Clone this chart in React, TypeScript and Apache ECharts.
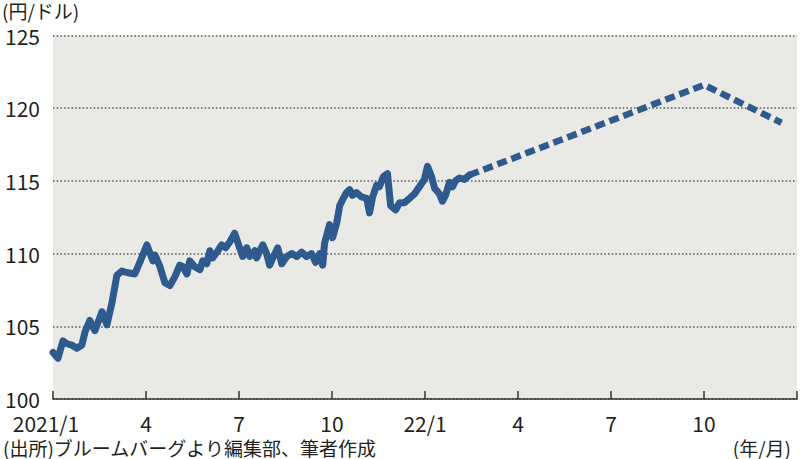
import React, { useEffect, useRef } from "react";
import * as echarts from "echarts";

// x positions in months since 2021/1 (0 = 2021/1, 12 = 2022/1, 24 = 2023/1)
const actualMonths = [
  0.0, 0.16, 0.32, 0.45, 0.61, 0.77, 0.93, 1.03, 1.19, 1.35, 1.58, 1.74, 1.9, 2.06, 2.22, 2.38, 2.64, 2.8,
  3.03, 3.22, 3.29, 3.45, 3.61, 3.77, 3.93, 4.09, 4.19, 4.32, 4.41, 4.57, 4.74, 4.83, 4.96, 5.06, 5.15,
  5.32, 5.44, 5.57, 5.7, 5.86, 6.02, 6.12, 6.25, 6.35, 6.51, 6.57, 6.67, 6.77, 6.89, 6.99, 7.09, 7.25,
  7.38, 7.54, 7.7, 7.86, 8.02, 8.18, 8.34, 8.47, 8.6, 8.7, 8.76, 8.92, 9.02, 9.15, 9.25, 9.34, 9.47,
  9.57, 9.66, 9.79, 9.95, 10.12, 10.21, 10.31, 10.44, 10.53, 10.66, 10.79, 10.89, 11.05, 11.18, 11.34,
  11.5, 11.66, 11.82, 11.98, 12.08, 12.21, 12.31, 12.47, 12.56, 12.66, 12.79, 12.89, 12.98, 13.11,
  13.27, 13.43,
];
const actualRates = [
  103.2, 102.8, 104.0, 103.8, 103.7, 103.5, 103.7, 104.6, 105.4, 104.7, 106.0, 105.1, 106.6, 108.5,
  108.8, 108.7, 108.6, 109.4, 110.6, 109.5, 109.9, 109.1, 108.0, 107.8, 108.4, 109.2, 109.1, 108.6,
  109.5, 109.1, 108.9, 109.5, 109.3, 110.2, 109.7, 110.2, 110.6, 110.4, 110.8, 111.4, 110.4, 109.8,
  110.4, 109.8, 110.2, 109.7, 110.2, 110.6, 110.0, 109.2, 109.7, 110.4, 109.3, 109.8, 110.0, 109.8,
  110.1, 109.8, 110.0, 109.4, 110.0, 109.2, 110.7, 112.0, 111.1, 112.1, 113.3, 113.7, 114.2, 114.4,
  114.0, 114.2, 113.9, 113.8, 112.8, 113.9, 114.7, 114.6, 115.3, 115.5, 113.3, 113.0, 113.5, 113.5,
  113.8, 114.1, 114.6, 115.1, 116.0, 115.3, 114.5, 114.1, 113.6, 114.0, 114.9, 114.6, 115.0, 115.2,
  115.1, 115.4,
];

const forecastMonths = [13.43, 21.0, 23.5];
const forecastRates = [115.4, 121.6, 119.0];

const xTickLabels = ["2021/1", "4", "7", "10", "22/1", "4", "7", "10", ""];

const FONT = '"Noto Sans CJK JP", "Noto Sans", sans-serif';
const TEXT = "#231f20";
const LINE = "#2f5a8e";

export default function App() {
  const ref = useRef<HTMLDivElement>(null);

  useEffect(() => {
    if (!ref.current) return;
    const chart = echarts.init(ref.current, undefined, { renderer: "svg" });
    const actual = actualMonths.map((m, i) => [m, actualRates[i]]);
    const forecast = forecastMonths.map((m, i) => [m, forecastRates[i]]);

    chart.setOption({
      animation: false,
      textStyle: { fontFamily: FONT },
      grid: {
        left: 53,
        right: 2,
        top: 35.5,
        bottom: 60,
        show: true,
        backgroundColor: "#e9eae5",
        borderWidth: 0,
      },
      xAxis: {
        type: "value",
        min: 0,
        max: 24,
        interval: 3,
        axisLine: { show: true, lineStyle: { color: "#333", width: 1.5 } },
        axisTick: { show: true, inside: true, length: 8, lineStyle: { color: "#333", width: 1.5 } },
        splitLine: { show: false },
        axisLabel: {
          margin: 13,
          fontSize: 21,
          lineHeight: 21,
          color: TEXT,
          fontFamily: FONT,
          formatter: (v: number) => {
            const idx = Math.round(v / 3);
            const s = xTickLabels[idx] ?? "";
            return idx === 0 ? `{a|${s}}` : s;
          },
          rich: {
            a: { fontSize: 21, lineHeight: 21, color: TEXT, fontFamily: FONT, padding: [0, 14, 0, 0] },
          },
        },
      },
      yAxis: {
        type: "value",
        min: 100,
        max: 125,
        interval: 5,
        axisLine: { show: false },
        axisTick: { show: false },
        axisLabel: { margin: 13, fontSize: 21, lineHeight: 20, color: TEXT, fontFamily: FONT },
        splitLine: {
          show: true,
          lineStyle: { color: "#555", width: 1.5, type: [1.5, 2.2] },
        },
      },
      series: [
        {
          type: "line",
          data: actual,
          showSymbol: false,
          smooth: false,
          lineStyle: { color: LINE, width: 7, cap: "round", join: "round" },
          z: 3,
        },
        {
          type: "line",
          data: forecast,
          showSymbol: false,
          lineStyle: { color: LINE, width: 6.5, type: [10, 5], cap: "butt", join: "miter" },
          z: 3,
        },
      ],
      graphic: [
        {
          type: "text",
          left: 2,
          top: 1,
          style: { text: "(円/ドル)", fontSize: 19, lineHeight: 19, fill: TEXT, fontFamily: FONT },
        },
        {
          type: "text",
          left: 3,
          top: 438,
          style: {
            text: "(出所)ブルームバーグより編集部、筆者作成",
            fontSize: 19,
            lineHeight: 19,
            fill: TEXT,
            fontFamily: FONT,
          },
        },
        {
          type: "text",
          right: 9,
          top: 438,
          style: { text: "(年/月)", fontSize: 19, lineHeight: 19, fill: TEXT, fontFamily: FONT },
        },
      ],
    });

    return () => chart.dispose();
  }, []);

  return (
    <div
      ref={ref}
      style={{ position: "absolute", left: 0, top: 0, width: 800, height: 459 }}
    />
  );
}
